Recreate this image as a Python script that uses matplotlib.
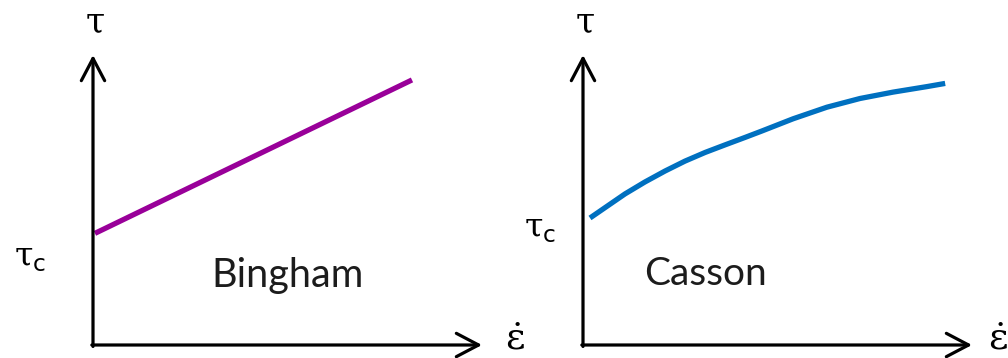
import matplotlib
matplotlib.use("Agg")
import matplotlib.pyplot as plt

plt.rcParams['mathtext.fontset'] = 'dejavuserif'

# shear rate (arbitrary units) and shear stress for each model
bingham_rate = [0.05, 8.2]
bingham_stress = [3.85, 9.14]

casson_rate = [0.18, 0.57, 1.08, 1.59, 2.11, 2.62, 3.14, 3.65, 4.17, 4.60,
		5.40, 6.27, 7.12, 7.97, 8.84, 9.31]
casson_stress = [4.38, 4.74, 5.21, 5.62, 6.00, 6.34, 6.64, 6.90, 7.16, 7.38,
		7.80, 8.20, 8.50, 8.72, 8.91, 9.02]

models = ['Bingham', 'Casson']
colors = ['#990099', '#0070C0']
txt_color = '#1c1c1c'

fig = plt.figure(figsize=(10.08, 3.58), dpi=100)
ax1 = fig.add_axes([93/1008, 13/358, 389/1008, 290/358])
ax2 = fig.add_axes([583/1008, 13/358, 389/1008, 290/358])

def draw_axes(ax, rate_x):
	ax.set_xlim(0, 10)
	ax.set_ylim(0, 10)
	ax.axis('off')
	arrow = dict(arrowstyle='->,head_length=0.8,head_width=0.42', lw=2.3,
			color='black', shrinkA=0, shrinkB=0, mutation_scale=20)
	ax.annotate('', xy=(0, 10), xytext=(0, -0.05), xycoords='data',
			arrowprops=arrow, annotation_clip=False)
	ax.annotate('', xy=(10, 0), xytext=(-0.03, 0), xycoords='data',
			arrowprops=arrow, annotation_clip=False)
	ax.text(0.05, 11.1, r'$\mathrm{\tau}$', fontsize=25, ha='center',
			va='center', clip_on=False)
	ax.text(rate_x, 0.2, r'$\dot{\mathrm{\varepsilon}}$', fontsize=27,
			ha='left', va='center', clip_on=False)

draw_axes(ax1, 10.58)
draw_axes(ax2, 10.42)

ax1.plot(bingham_rate, bingham_stress, color=colors[0], lw=3.8,
		solid_capstyle='butt')
ax2.plot(casson_rate, casson_stress, color=colors[1], lw=3.8,
		solid_capstyle='butt', solid_joinstyle='round')

ax1.text(-1.62, 3.0, r'$\mathrm{\tau}_\mathsf{c}$', fontsize=24, ha='center',
		va='center', clip_on=False)
ax2.text(-1.1, 4.03, r'$\mathrm{\tau}_\mathsf{c}$', fontsize=24, ha='center',
		va='center', clip_on=False)

ax1.text(5.01, 2.41, models[0], fontsize=28.5, family='Lato', color=txt_color,
		ha='center', va='center')
ax2.text(3.14, 2.45, models[1], fontsize=28, family='Lato', color=txt_color,
		ha='center', va='center')

fig.savefig('out.png', dpi=100)
